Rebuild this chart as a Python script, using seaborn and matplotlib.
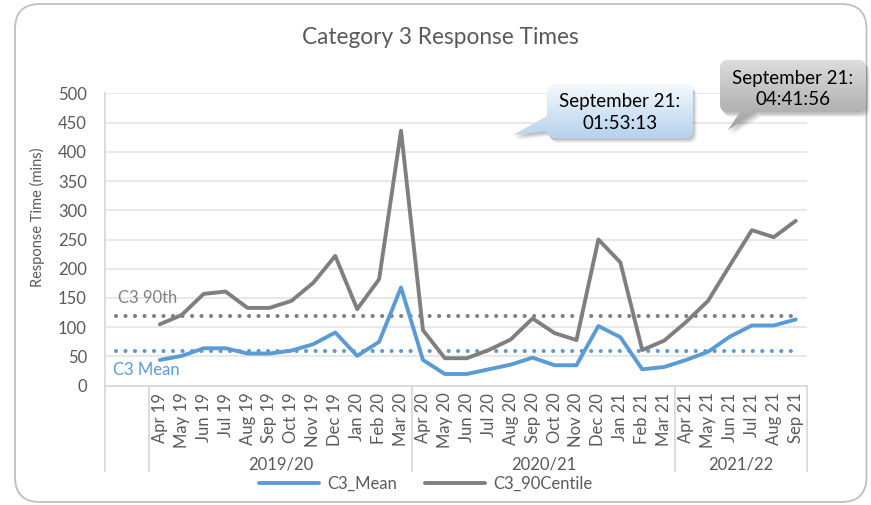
import numpy as np
import pandas as pd
import seaborn as sns
import matplotlib.pyplot as plt
from matplotlib.path import Path
from matplotlib.patches import PathPatch, FancyBboxPatch
from matplotlib.lines import Line2D
from matplotlib.colors import LinearSegmentedColormap
from matplotlib.transforms import Affine2D

sns.set_style('white')
plt.rcParams['font.family'] = ['Lato', 'DejaVu Sans']

# data
months = ['Apr 19', 'May 19', 'Jun 19', 'Jul 19', 'Aug 19', 'Sep 19',
          'Oct 19', 'Nov 19', 'Dec 19', 'Jan 20', 'Feb 20', 'Mar 20',
          'Apr 20', 'May 20', 'Jun 20', 'Jul 20', 'Aug 20', 'Sep 20',
          'Oct 20', 'Nov 20', 'Dec 20', 'Jan 21', 'Feb 21', 'Mar 21',
          'Apr 21', 'May 21', 'Jun 21', 'Jul 21', 'Aug 21', 'Sep 21']
years = ['2019/20', '2020/21', '2021/22']
year_sizes = [12, 12, 6]
n_blank = 2  # empty categories before Apr 19

c3_mean = [44, 51, 64, 64, 55, 55, 60, 71, 91, 51, 75, 168,
           44, 20, 20, 28, 36, 48, 35, 35, 102, 83, 28, 32,
           44, 58, 84, 103, 103, 113.2]
c3_90 = [105, 121, 157, 161, 133, 133, 145, 176, 222, 131, 182, 436,
         95, 47, 47, 61, 79, 115, 90, 78, 250, 211, 61, 77,
         109, 145, 206, 266, 254, 281.9]
mean_target = 60
p90_target = 120
callout_blue = 'September 21:\n01:53:13'
callout_gray = 'September 21:\n04:41:56'

BLUE = '#5B9BD5'
GRAY = '#7F7F7F'
TXT = '#595959'
LINE = '#D9D9D9'

df = pd.DataFrame({'pos': np.arange(len(months)) + n_blank,
                   'C3_Mean': c3_mean, 'C3_90Centile': c3_90})
long_df = df.melt(id_vars='pos', var_name='series', value_name='mins')
all_pos = np.arange(n_blank + len(months))
targets = pd.DataFrame({'pos': all_pos,
                        'mean_t': [mean_target] * len(all_pos),
                        'p90_t': [p90_target] * len(all_pos)})

fig = plt.figure(figsize=(8.71, 5.05), dpi=100)
W, H = 871, 505
ax = fig.add_axes([105 / W, 1 - 385.7 / H, 701.7 / W, 292.4 / H])

dots = (0, (0.001, 2.28))
sns.lineplot(data=targets, x='pos', y='p90_t', color=GRAY, lw=3,
             linestyle=dots, dash_capstyle='round', ax=ax)
sns.lineplot(data=targets, x='pos', y='mean_t', color=BLUE, lw=3,
             linestyle=dots, dash_capstyle='round', ax=ax)
sns.lineplot(data=long_df, x='pos', y='mins', hue='series',
             palette={'C3_Mean': BLUE, 'C3_90Centile': GRAY},
             lw=2.8, legend=False, ax=ax)

ax.set_xlim(-0.5, len(all_pos) - 0.5)
ax.set_ylim(0, 500)
ax.set_xticks(all_pos)
ax.set_xticklabels([''] * n_blank + months)
ax.set_yticks(range(0, 501, 50))
ax.tick_params(axis='x', length=0, pad=5, labelsize=12, labelcolor=TXT,
               rotation=90)
ax.tick_params(axis='y', length=0, pad=13, labelsize=12, labelcolor=TXT)
ax.set_xlabel('')
ax.set_ylabel('Response Time (mins)', fontsize=10.5, color=TXT)
ax.yaxis.set_label_coords(-0.0855, 0.575)
ax.yaxis.grid(True, color='#E6E6E6', lw=1.3)
ax.set_axisbelow(True)
for s in ['top', 'right']:
    ax.spines[s].set_visible(False)
for s in ['left', 'bottom']:
    ax.spines[s].set_color(LINE)
    ax.spines[s].set_linewidth(1.3)

# multi-level category axis
xt = ax.get_xaxis_transform()
edges = [-0.5, n_blank - 0.5] + list(n_blank - 0.5 + np.cumsum(year_sizes))
ax.vlines(edges, -0.295, 0, transform=xt, clip_on=False, color=LINE, lw=1.3)
centers = n_blank - 0.5 + np.cumsum(year_sizes) - np.array(year_sizes) / 2
for c, y in zip(centers, years):
    ax.text(c, -0.271, y, transform=xt, ha='center', va='center',
            fontsize=12, color=TXT)

ax.text(0.09, 150, 'C3 90th', color=GRAY, fontsize=12, ha='left', va='center')
ax.text(-0.14, 27, 'C3 Mean', color=BLUE, fontsize=12, ha='left', va='center')

fig.text(440 / W, 1 - 38 / H, 'Category 3 Response Times', fontsize=16.3,
         color=TXT, ha='center', va='center')

handles = [Line2D([], [], color=BLUE, lw=2.8), Line2D([], [], color=GRAY, lw=2.8)]
leg = fig.legend(handles, ['C3_Mean', 'C3_90Centile'], loc='center',
                 bbox_to_anchor=(0.489, 1 - 484 / H), ncol=2, frameon=False,
                 handlelength=3.6, handletextpad=0.5, columnspacing=1.7,
                 fontsize=12)
for t in leg.get_texts():
    t.set_color(TXT)

# overlay in pixel coords for border and callouts
ov = fig.add_axes([0, 0, 1, 1], zorder=5)
ov.set_axis_off()
ov.patch.set_alpha(0)

ov.add_patch(FancyBboxPatch((15, 4), 851.5, 498, boxstyle='round,pad=0,rounding_size=25',
                            fc='none', ec='#BFBFBF', lw=1.3))


def callout(x0, y0, x1, y1, r, side, b0, b1, tip):
    pts = []
    corners = [(x1 - r, y0 + r, -90, 0), (x1 - r, y1 - r, 0, 90),
               (x0 + r, y1 - r, 90, 180), (x0 + r, y0 + r, 180, 270)]
    for i, (cx, cy, a0, a1) in enumerate(corners):
        for a in np.radians(np.linspace(a0, a1, 8)):
            pts.append((cx + r * np.cos(a), cy + r * np.sin(a)))
        if side == 'bottom' and i == 1:
            pts += [(b1, y1), tip, (b0, y1)]
        if side == 'left' and i == 2:
            pts += [(x0, b1), tip, (x0, b0)]
    pts.append(pts[0])
    return Path(pts, closed=True)


def draw_callout(path, top, bottom, text, cx, cy):
    for off, a in [(5, 0.05), (4, 0.06), (3, 0.07), (2, 0.08)]:
        sh = PathPatch(path.transformed(Affine2D().translate(off - 1, off)),
                       fc='black', ec='none', alpha=a, zorder=1)
        ov.add_patch(sh)
    clip = PathPatch(path, fc='none', ec='none', transform=ov.transData)
    ov.add_patch(clip)
    v = path.vertices
    cmap = LinearSegmentedColormap.from_list('g', [top, bottom])
    im = ov.imshow(np.linspace(0, 1, 64).reshape(-1, 1), cmap=cmap, aspect='auto',
                   extent=(v[:, 0].min(), v[:, 0].max(), v[:, 1].max(), v[:, 1].min()),
                   origin='upper', zorder=2)
    im.set_clip_path(clip)
    ov.text(cx, cy, text, ha='center', va='center', fontsize=13.5, color='black',
            linespacing=1.3, zorder=3)


draw_callout(callout(547, 84, 693, 138, 7, 'left', 116, 131, (513, 135)),
             '#F4F8FC', '#B7D2EE', callout_blue, 620, 112.5)
draw_callout(callout(720, 60, 866, 112, 7, 'bottom', 740, 757, (728, 130)),
             '#DCDCDC', '#A2A2A2', callout_gray, 793, 89)

ov.set_xlim(0, W)
ov.set_ylim(H, 0)

fig.savefig('out.png', dpi=100)
